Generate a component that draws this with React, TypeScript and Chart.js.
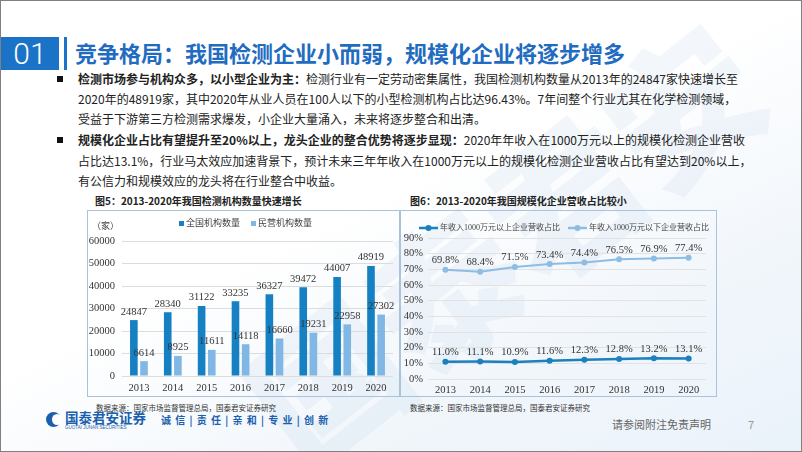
import React, { useEffect, useRef } from "react";
import { Chart, registerables } from "chart.js";

Chart.register(...registerables);

const years = ["2013", "2014", "2015", "2016", "2017", "2018", "2019", "2020"];
const totalOrgs = [24847, 28340, 31122, 33235, 36327, 39472, 44007, 48919];
const privateOrgs = [6614, 8925, 11611, 14118, 16660, 19231, 22958, 27302];
const seriesNames1 = ["全国机构数量", "民营机构数量"];
const bigShare = [11.0, 11.1, 10.9, 11.6, 12.3, 12.8, 13.2, 13.1];
const smallShare = [69.8, 68.4, 71.5, 73.4, 74.4, 76.5, 76.9, 77.4];
const seriesNames2 = ["年收入1000万元以上企业营收占比", "年收入1000万元以下企业营收占比"];
const unitLabel = "（家）";

const DARK = "#1580c2";
const LIGHT = "#80b7e4";
const LINE_DARK = "#1a80be";
const LINE_LIGHT = "#8dbde5";
const SERIF = "'Liberation Serif', 'Noto Sans CJK SC', serif";
const CJK = "'Noto Sans CJK SC', sans-serif";

function makeValueLabels(format: (v: number) => string, offset: number) {
  return {
    id: "valueLabels",
    afterDatasetsDraw(chart: any) {
      const ctx = chart.ctx;
      ctx.save();
      ctx.font = `10.5px ${SERIF}`;
      ctx.fillStyle = "#333";
      ctx.textAlign = "center";
      ctx.textBaseline = "bottom";
      chart.data.datasets.forEach((ds: any, i: number) => {
        const meta = chart.getDatasetMeta(i);
        meta.data.forEach((el: any, j: number) => {
          ctx.fillText(format(ds.data[j]), el.x, el.y - offset);
        });
      });
      ctx.restore();
    },
  };
}

function makeBarLegend() {
  return {
    id: "barLegend",
    afterDraw(chart: any) {
      const ctx = chart.ctx;
      ctx.save();
      ctx.font = `9px ${SERIF}`;
      ctx.textBaseline = "middle";
      ctx.fillStyle = "#444";
      ctx.fillText(unitLabel, 5, 17);
      const xs = [92, 164];
      chart.data.datasets.forEach((ds: any, i: number) => {
        ctx.fillStyle = ds.backgroundColor;
        ctx.fillRect(xs[i], 11, 5, 5);
        ctx.fillStyle = "#444";
        ctx.fillText(ds.label, xs[i] + 7, 13.5);
      });
      ctx.restore();
    },
  };
}

function makeLineLegend() {
  return {
    id: "lineLegend",
    afterDraw(chart: any) {
      const ctx = chart.ctx;
      ctx.save();
      ctx.font = `8px ${SERIF}`;
      ctx.textBaseline = "middle";
      const xs = [19, 168];
      const y = 18;
      chart.data.datasets.forEach((ds: any, i: number) => {
        ctx.strokeStyle = ds.borderColor;
        ctx.lineWidth = 2.5;
        ctx.beginPath();
        ctx.moveTo(xs[i], y);
        ctx.lineTo(xs[i] + 19, y);
        ctx.stroke();
        ctx.fillStyle = ds.borderColor;
        ctx.beginPath();
        ctx.arc(xs[i] + 9.5, y, 3, 0, Math.PI * 2);
        ctx.fill();
        ctx.fillStyle = "#444";
        ctx.fillText(ds.label, xs[i] + 21, y);
      });
      ctx.restore();
    },
  };
}

const tickFont = { family: SERIF, size: 10.5 };

export default function App() {
  const c1 = useRef<HTMLCanvasElement>(null);
  const c2 = useRef<HTMLCanvasElement>(null);

  useEffect(() => {
    const ch1 = new Chart(c1.current as HTMLCanvasElement, {
      type: "bar",
      data: {
        labels: years,
        datasets: [
          { label: seriesNames1[0], data: totalOrgs, backgroundColor: DARK, barPercentage: 0.75, categoryPercentage: 0.6 },
          { label: seriesNames1[1], data: privateOrgs, backgroundColor: LIGHT, barPercentage: 0.75, categoryPercentage: 0.6 },
        ],
      },
      options: {
        responsive: false,
        animation: false,
        devicePixelRatio: 1,
        layout: { padding: { top: 31, right: 7, left: 0, bottom: 0 } },
        plugins: { legend: { display: false }, tooltip: { enabled: false } },
        scales: {
          x: {
            grid: { display: false },
            border: { display: false },
            ticks: { font: tickFont, color: "#333", padding: -2 },
            afterFit: (s: any) => { s.height = 21; },
          },
          y: {
            min: 0,
            max: 60000,
            ticks: { stepSize: 10000, font: tickFont, color: "#333", padding: 7, callback: (v: any) => String(v) },
            grid: { color: "#dcdcdc", drawTicks: false },
            border: { display: false },
            afterFit: (s: any) => { s.width = 35; },
          },
        },
      } as any,
      plugins: [makeValueLabels((v) => String(v), 3), makeBarLegend()],
    });

    const ch2 = new Chart(c2.current as HTMLCanvasElement, {
      type: "line",
      data: {
        labels: years,
        datasets: [
          {
            label: seriesNames2[0], data: bigShare, borderColor: LINE_DARK, backgroundColor: LINE_DARK,
            borderWidth: 2.5, pointRadius: 3, pointBackgroundColor: LINE_DARK, pointBorderWidth: 0, tension: 0,
          },
          {
            label: seriesNames2[1], data: smallShare, borderColor: LINE_LIGHT, backgroundColor: LINE_LIGHT,
            borderWidth: 2, pointRadius: 3, pointBackgroundColor: LINE_LIGHT, pointBorderWidth: 0, tension: 0,
          },
        ],
      },
      options: {
        responsive: false,
        animation: false,
        devicePixelRatio: 1,
        layout: { padding: { top: 28, right: 11, left: 0, bottom: 0 } },
        plugins: { legend: { display: false }, tooltip: { enabled: false } },
        scales: {
          x: {
            offset: true,
            grid: { display: false },
            border: { display: false },
            ticks: { font: tickFont, color: "#333", padding: -3 },
            afterFit: (s: any) => { s.height = 18; },
          },
          y: {
            min: 0,
            max: 90,
            ticks: { stepSize: 10, font: tickFont, color: "#333", padding: 5, callback: (v: any) => v + "%" },
            grid: { color: "#e2e2e2", drawTicks: false },
            border: { display: false },
            afterFit: (s: any) => { s.width = 28; },
          },
        },
      } as any,
      plugins: [makeValueLabels((v) => v.toFixed(1) + "%", 4), makeLineLegend()],
    });

    return () => {
      ch1.destroy();
      ch2.destroy();
    };
  }, []);

  const line = (top: number, children: React.ReactNode) => (
    <div style={{ position: "absolute", left: 77, top: top - 9, height: 18, lineHeight: "18px", fontSize: 12, color: "#222", whiteSpace: "nowrap", fontFamily: CJK }}>
      {children}
    </div>
  );
  const bullet = (top: number) => (
    <div style={{ position: "absolute", left: 56, top: top - 3, width: 6, height: 6, background: "#111" }} />
  );

  return (
    <div
      style={{
        position: "absolute",
        left: 0,
        top: 0,
        width: 802,
        height: 452,
        boxSizing: "border-box",
        border: "1px solid #808080",
        overflow: "hidden",
        fontFamily: CJK,
        background: "linear-gradient(155deg, #ffffff 0%, #ffffff 45%, #f1f6fb 75%, #eaf2fa 100%)",
      }}
    >
      {/* watermark */}
      <div
        style={{
          position: "absolute",
          left: 200,
          top: 130,
          fontSize: 150,
          fontWeight: 900,
          color: "rgba(170,198,228,0.14)",
          transform: "rotate(-38deg)",
          whiteSpace: "nowrap",
          fontFamily: CJK,
        }}
      >
        国泰君安
      </div>

      {/* title */}
      <div style={{ position: "absolute", left: 0, top: 36, width: 58, height: 33, background: "#1b73c8", color: "#fff", fontSize: 30, lineHeight: "34px", textAlign: "center", fontFamily: "Roboto, sans-serif", fontWeight: 300 }}>
        01
      </div>
      <div style={{ position: "absolute", left: 63, top: 36, width: 3, height: 33, background: "#1b73c8" }} />
      <div style={{ position: "absolute", left: 74, top: 37, height: 28, lineHeight: "28px", fontSize: 22, fontWeight: 700, color: "#1f6cc1", whiteSpace: "nowrap" }}>
        竞争格局：我国检测企业小而弱，规模化企业将逐步增多
      </div>

      {/* bullets */}
      {bullet(78)}
      {line(78, <><b>检测市场参与机构众多，以小型企业为主：</b>检测行业有一定劳动密集属性，我国检测机构数量从2013年的24847家快速增长至</>)}
      {line(98, <>2020年的48919家，其中2020年从业人员在100人以下的小型检测机构占比达96.43%。7年间整个行业尤其在化学检测领域，</>)}
      {line(118, <>受益于下游第三方检测需求爆发，小企业大量涌入，未来将逐步整合和出清。</>)}
      {bullet(139)}
      {line(139, <><b>规模化企业占比有望提升至20%以上，龙头企业的整合优势将逐步显现：</b>2020年年收入在1000万元以上的规模化检测企业营收</>)}
      {line(160, <>占比达13.1%，行业马太效应加速背景下，预计未来三年年收入在1000万元以上的规模化检测企业营收占比有望达到20%以上，</>)}
      {line(180, <>有公信力和规模效应的龙头将在行业整合中收益。</>)}

      {/* chart titles */}
      <div style={{ position: "absolute", left: 94, top: 193, fontSize: 10, fontWeight: 700, color: "#222", whiteSpace: "nowrap", lineHeight: "14px" }}>
        图5：2013-2020年我国检测机构数量快速增长
      </div>
      <div style={{ position: "absolute", left: 409, top: 193, fontSize: 10, fontWeight: 700, color: "#222", whiteSpace: "nowrap", lineHeight: "14px" }}>
        图6：2013-2020年我国规模化企业营收占比较小
      </div>

      {/* chart boxes */}
      <div style={{ position: "absolute", left: 86, top: 209, width: 313, height: 187, boxSizing: "border-box", border: "1px solid #a9c3de" }} />
      <div style={{ position: "absolute", left: 399, top: 209, width: 317, height: 187, boxSizing: "border-box", border: "1px solid #a9c3de" }} />
      <canvas ref={c1} width={313} height={187} style={{ position: "absolute", left: 86, top: 209, width: 313, height: 187 }} />
      <canvas ref={c2} width={317} height={187} style={{ position: "absolute", left: 399, top: 209, width: 317, height: 187 }} />

      {/* sources */}
      <div style={{ position: "absolute", left: 95, top: 401, fontSize: 7.5, color: "#333", whiteSpace: "nowrap", lineHeight: "11px" }}>
        数据来源：国家市场监督管理总局，国泰君安证券研究
      </div>
      <div style={{ position: "absolute", left: 409, top: 401, fontSize: 7.5, color: "#333", whiteSpace: "nowrap", lineHeight: "11px" }}>
        数据来源：国家市场监督管理总局，国泰君安证券研究
      </div>

      {/* footer logo */}
      <div style={{ position: "absolute", left: 45, top: 411, width: 15, height: 15, borderRadius: "50%", background: "#1b5fae" }} />
      <div style={{ position: "absolute", left: 51, top: 413, width: 10, height: 11, borderRadius: "50%", background: "#ffffff" }} />
      <div style={{ position: "absolute", left: 64, top: 408, fontSize: 13.5, fontWeight: 700, color: "#1b5fae", whiteSpace: "nowrap", lineHeight: "16px" }}>
        国泰君安证券
      </div>
      <div style={{ position: "absolute", left: 64, top: 424, fontSize: 4.5, color: "#1b5fae", whiteSpace: "nowrap", lineHeight: "5px", fontFamily: "Arial, sans-serif" }}>
        GUOTAI JUNAN SECURITIES
      </div>
      <div style={{ position: "absolute", left: 160, top: 412, fontSize: 10, fontWeight: 700, color: "#1b5fae", whiteSpace: "nowrap", lineHeight: "14px", letterSpacing: 1 }}>
        诚 信 | 责 任 | 亲 和 | 专 业 | 创 新
      </div>
      <div style={{ position: "absolute", left: 611, top: 415, fontSize: 11, color: "#666", whiteSpace: "nowrap", lineHeight: "16px" }}>
        请参阅附注免责声明
      </div>
      <div style={{ position: "absolute", left: 747, top: 415, fontSize: 11, color: "#999", whiteSpace: "nowrap", lineHeight: "16px" }}>
        7
      </div>
    </div>
  );
}
